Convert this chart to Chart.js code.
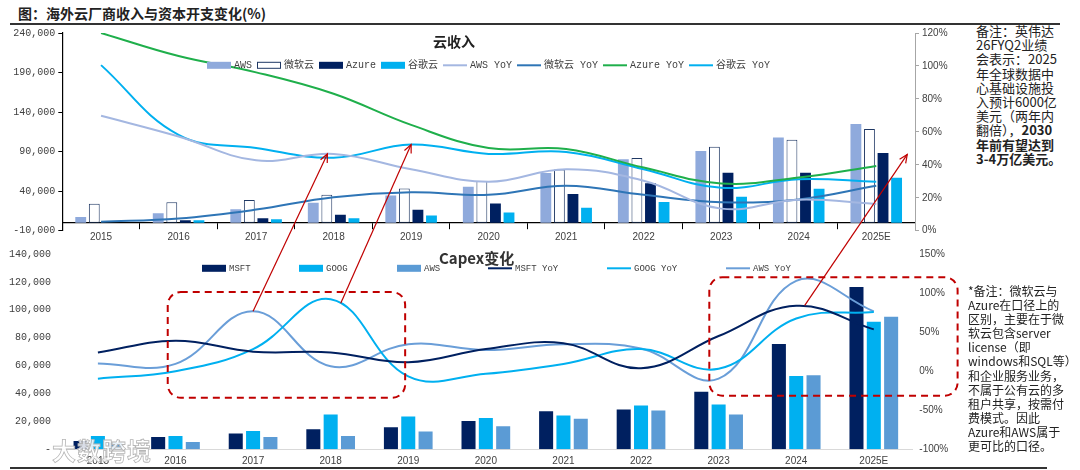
<!DOCTYPE html>
<html>
<head>
<meta charset="utf-8">
<script src="https://cdn.jsdelivr.net/npm/chart.js@4.4.1/dist/chart.umd.min.js"></script>
<style>
html, body { margin: 0; padding: 0; background: #fff; }
#page { position: relative; width: 1080px; height: 470px; overflow: hidden; font-family: "Noto Sans CJK SC", sans-serif; color: #222; }
canvas { position: absolute; }
#revChart { left: 10px; top: 24px; }
#capexChart { left: 0px; top: 240px; }
#overlay { left: 0; top: 0; pointer-events: none; z-index: 5; }
.rule { position: absolute; background: #333; height: 2px; }
.txt { position: absolute; white-space: nowrap; }
.note { position: absolute; white-space: nowrap; }
#wm { position: absolute; left: 52px; top: 432px; font-size: 24px; font-weight: bold; color: rgba(255,255,255,0.85); -webkit-text-stroke: 0.8px #b5b5b5; z-index: 6; letter-spacing: 1px; }
</style>
</head>
<body>
<div id="page">
  <div class="txt" style="left:18px;top:3px;font-size:14px;font-weight:bold;line-height:20px;">图：海外云厂商收入与资本开支变化(%)</div>
  <div class="rule" style="left:10px;top:23px;width:1050px;"></div>
  <div class="rule" style="left:10px;top:467px;width:1037px;"></div>

  <canvas id="revChart" width="950" height="226"></canvas>
  <canvas id="capexChart" width="960" height="230"></canvas>

  <div class="txt" style="left:433px;top:31px;font-size:14px;font-weight:bold;line-height:20px;">云收入</div>
  <div class="txt" style="left:439px;top:248px;font-size:15px;font-weight:bold;line-height:20px;color:#333;">Capex变化</div>

  <div class="note" style="left:976px;top:24px;font-size:13px;line-height:14.2px;">备注：英伟达<br>26FYQ2业绩<br>会表示：2025<br>年全球数据中<br>心基础设施投<br>入预计6000亿<br>美元（两年内<br>翻倍），<b>2030</b><br><b>年前有望达到</b><br><b>3-4万亿美元。</b></div>
  <div class="note" style="left:968px;top:284px;font-size:12px;line-height:14.1px;">*备注：微软云与<br>Azure在口径上的<br>区别，主要在于微<br>软云包含server<br>license（即<br>windows和SQL等）<br>和企业服务业务，<br>不属于公有云的多<br>租户共享，按需付<br>费模式。因此<br>Azure和AWS属于<br>更可比的口径。</div>

  <div id="wm">大数跨境</div>
  <canvas id="overlay" width="1080" height="470"></canvas>
</div>

<script>
// ---- data ----
const years = ['2015', '2016', '2017', '2018', '2019', '2020', '2021', '2022', '2023', '2024', '2025E'];

// 云收入 (百万美元)
const awsRev   = [7200, 12200, 17200, 25500, 34600, 45500, 62900, 80300, 90700, 107700, 124800];
const msCloud  = [24000, 25900, 28900, 35500, 43300, 52900, 67500, 82000, 96100, 104900, 118600];
const azureRev = [null, 3100, 5600, 10200, 16400, 24300, 36400, 50000, 63300, 63300, 88200];
const googRev  = [null, 3100, 4400, 5600, 9300, 13100, 18900, 26400, 33000, 43000, 57000];

// 云收入 YoY (%)
const awsYoY   = [69.8, 57.2, 42.7, 46.6, 37.3, 29.7, 37.3, 30.3, 13.4, 18.8, 16.2];
const msYoY    = [5.4, 7.4, 12.8, 20.3, 23.3, 21.8, 27.3, 21.8, 17.3, 19.0, 27.3];
const azureYoY = [120, 106, 96.1, 83.1, 64.2, 50.2, 49.6, 38.3, 28.7, 32.3, 39.3];
const googYoY  = [100.5, 58.2, 50.2, 44.3, 52.3, 46.6, 47.8, 37.3, 26.0, 31.3, 29.7];

// Capex (百万美元)
const msftCapex = [5900, 8900, 11300, 14400, 15800, 20200, 27300, 28500, 41300, 75400, 116300];
const googCapex = [9600, 9600, 13200, 25000, 23600, 22400, 24300, 31400, 32100, 52600, 91500];
const awsCapex  = [4700, 5200, 8900, 9600, 12700, 16500, 21900, 27800, 25000, 53100, 95100];

// Capex YoY (%)
const msftCapexYoY = [24, 39, 25, 24, 11.4, 28.3, 35.8, 3.8, 45, 83.8, 53.5];
const googCapexYoY = [-9.6, 0, 28.3, 92.1, -6.7, -3.3, 9.3, 28.3, 3, 67.4, 75.7];
const awsCapexYoY  = [9.7, 9.3, 76.6, 6.3, 34.6, 27, 34.6, 29, -9.6, 115.7, 76.6];

// tick settings
const revTicks = { min: -10000, max: 240000, step: 50000 };
const revPctTicks = { min: 0, max: 120, step: 20 };
const capexTicks = { min: 0, max: 140000, step: 20000 };
const capexPctTicks = { min: -100, max: 150, step: 50 };

// red annotations, in data space (category index, axis value)
const arrows = [
  { from: { x: 2.0, y: 76.6 }, to: { x: 2.92, y: 46.6 } },
  { from: { x: 3.13, y: 87 }, to: { x: 4.0, y: 52.3 } },
  { from: { x: 9.11, y: 84.2 }, to: { x: 10.4, y: 46.3 } }
];
const dashBoxes = [
  { x0: 0.9, x1: 3.96, y0: 112750, y1: 37000 },
  { x0: 7.88, x1: 11.08, y0: 123400, y1: 38400 }
];

// ---- helpers ----
const monoFont = { family: "'Liberation Mono', 'Noto Sans CJK SC', monospace", size: 10 };
const sansFont = { family: "'Liberation Sans', Arial, sans-serif", size: 10 };
const fmtNum = v => v.toLocaleString('en-US');

// legend drawn inside the plot area
const floatLegend = {
  id: 'floatLegend',
  afterDraw(chart, args, opts) {
    const ctx = chart.ctx;
    ctx.save();
    ctx.font = opts.font;
    ctx.textBaseline = 'middle';
    let x = opts.x;
    opts.items.forEach((idx, i) => {
      const ds = chart.data.datasets[idx];
      const sx = opts.slots ? opts.slots[i] : x;
      const y = opts.y;
      if (ds.type === 'line') {
        ctx.strokeStyle = ds.borderColor;
        ctx.lineWidth = ds.borderWidth;
        ctx.beginPath();
        ctx.moveTo(sx, y);
        ctx.lineTo(sx + opts.sample, y);
        ctx.stroke();
      } else {
        ctx.fillStyle = ds.backgroundColor;
        ctx.fillRect(sx, y - opts.boxH / 2, opts.sample, opts.boxH);
        if (ds.borderWidth) {
          ctx.strokeStyle = ds.borderColor;
          ctx.lineWidth = 1;
          ctx.strokeRect(sx + 0.5, y - opts.boxH / 2 + 0.5, opts.sample - 1, opts.boxH - 1);
        }
      }
      ctx.fillStyle = opts.color;
      ctx.fillText(ds.label, sx + opts.sample + 3, y + 0.5);
      x = sx + opts.sample + 3 + ctx.measureText(ds.label).width + opts.gap;
    });
    ctx.restore();
  }
};

const lineDs = (label, data, color, axis) => ({
  type: 'line', label, data, borderColor: color, backgroundColor: color,
  borderWidth: 2, pointRadius: 0, tension: 0.4, fill: false, yAxisID: axis, order: 0
});
const barDs = (label, data, color, extra) => Object.assign({
  type: 'bar', label, data, backgroundColor: color, borderWidth: 0, yAxisID: 'y', order: 1
}, extra || {});

// ---- 云收入 chart ----
const revChart = new Chart(document.getElementById('revChart'), {
  type: 'bar',
  data: {
    labels: years,
    datasets: [
      barDs('AWS', awsRev, '#8FAADC'),
      barDs('微软云', msCloud, '#FFFFFF', { borderColor: '#1F3864', borderWidth: 1, borderSkipped: false }),
      barDs('Azure', azureRev, '#002060'),
      barDs('谷歌云', googRev, '#00B0F0'),
      lineDs('AWS YoY', awsYoY, '#A4B7E1', 'y1'),
      lineDs('微软云 YoY', msYoY, '#2E75B6', 'y1'),
      lineDs('Azure YoY', azureYoY, '#1FAF4B', 'y1'),
      lineDs('谷歌云 YoY', googYoY, '#00B0F0', 'y1')
    ]
  },
  options: {
    responsive: false,
    animation: false,
    layout: { padding: { top: 6, bottom: 19.3, left: 0, right: 0 } },
    datasets: { bar: { categoryPercentage: 0.7, barPercentage: 0.8 } },
    plugins: {
      legend: { display: false },
      tooltip: { enabled: false },
      floatLegend: {
        items: [0, 1, 2, 3, 4, 5, 6, 7], x: 197, y: 41.3, sample: 24, boxH: 7, gap: 5,
        font: "10px 'Liberation Mono', 'Noto Sans CJK SC', monospace", color: '#404040'
      }
    },
    scales: {
      x: {
        position: { y: 0 },
        offset: true,
        grid: { display: true, drawOnChartArea: false, drawTicks: true, tickLength: 6, color: '#000', offset: true },
        border: { display: true, color: '#000', width: 1.2 },
        ticks: { font: sansFont, color: '#404040', padding: 2, maxRotation: 0 }
      },
      y: {
        position: 'left',
        min: revTicks.min, max: revTicks.max,
        ticks: { stepSize: revTicks.step, font: monoFont, color: '#404040', padding: 3, callback: v => fmtNum(v) },
        grid: { display: true, drawOnChartArea: false, drawTicks: true, tickLength: 4, color: '#000' },
        border: { display: true, color: '#000', width: 1.2 },
        afterFit: s => { s.width = 52.3; }
      },
      y1: {
        position: 'right',
        min: revPctTicks.min, max: revPctTicks.max,
        ticks: { stepSize: revPctTicks.step, font: sansFont, color: '#404040', padding: 3, callback: v => v + '%' },
        grid: { display: true, drawOnChartArea: false, drawTicks: true, tickLength: 4, color: '#A6A6A6' },
        border: { display: true, color: '#A6A6A6', width: 1 },
        afterFit: s => { s.width = 45; }
      }
    }
  },
  plugins: [floatLegend]
});

// ---- Capex chart ----
const capexChart = new Chart(document.getElementById('capexChart'), {
  type: 'bar',
  data: {
    labels: years,
    datasets: [
      barDs('MSFT', msftCapex, '#002060'),
      barDs('GOOG', googCapex, '#00B0F0'),
      barDs('AWS', awsCapex, '#5B9BD5'),
      lineDs('MSFT YoY', msftCapexYoY, '#002060', 'y1'),
      lineDs('GOOG YoY', googCapexYoY, '#00B0F0', 'y1'),
      lineDs('AWS YoY', awsCapexYoY, '#6A9ED8', 'y1')
    ]
  },
  options: {
    responsive: false,
    animation: false,
    layout: { padding: { top: 11.5, bottom: 0, left: 0, right: 0 } },
    datasets: { bar: { categoryPercentage: 0.67, barPercentage: 0.81 } },
    plugins: {
      legend: { display: false },
      tooltip: { enabled: false },
      floatLegend: {
        items: [0, 1, 2, 3, 4, 5], slots: [202, 299, 397, 488, 607, 726], y: 28.3, sample: 24, boxH: 7, gap: 5,
        font: "9px 'Liberation Mono', monospace", color: '#404040'
      }
    },
    scales: {
      x: {
        position: 'bottom',
        offset: true,
        grid: { display: false, drawTicks: false },
        border: { display: true, color: '#D9D9D9', width: 1 },
        ticks: { font: sansFont, color: '#404040', padding: 6, maxRotation: 0 },
        afterFit: s => { s.height = 20.7; }
      },
      y: {
        position: 'left',
        min: capexTicks.min, max: capexTicks.max,
        ticks: { stepSize: capexTicks.step, font: monoFont, color: '#404040', padding: 8, callback: v => v === 0 ? '-' : fmtNum(v) },
        grid: { display: false, drawTicks: false },
        border: { display: false },
        afterFit: s => { s.width = 59.1; }
      },
      y1: {
        position: 'right',
        min: capexPctTicks.min, max: capexPctTicks.max,
        ticks: { stepSize: capexPctTicks.step, font: sansFont, color: '#404040', padding: 6.7, callback: v => v + '%' },
        grid: { display: false, drawTicks: false },
        border: { display: false },
        afterFit: s => { s.width = 47.4; }
      }
    }
  },
  plugins: [floatLegend]
});

// ---- red arrows and dashed boxes ----
function pagePt(chart, xIdx, val, axis) {
  const c = chart.canvas;
  return [c.offsetLeft + chart.scales.x.getPixelForValue(xIdx),
          c.offsetTop + chart.scales[axis].getPixelForValue(val)];
}

const ov = document.getElementById('overlay').getContext('2d');
ov.strokeStyle = '#C00000';
ov.fillStyle = '#C00000';

arrows.forEach(a => {
  const [x0, y0] = pagePt(capexChart, a.from.x, a.from.y, 'y1');
  const [x1, y1] = pagePt(revChart, a.to.x, a.to.y, 'y1');
  ov.lineWidth = 1.2;
  ov.beginPath();
  ov.moveTo(x0, y0);
  ov.lineTo(x1, y1);
  ov.stroke();
  const ang = Math.atan2(y1 - y0, x1 - x0);
  const len = 9;
  ov.beginPath();
  ov.moveTo(x1 - len * Math.cos(ang - 0.42), y1 - len * Math.sin(ang - 0.42));
  ov.lineTo(x1, y1);
  ov.lineTo(x1 - len * Math.cos(ang + 0.42), y1 - len * Math.sin(ang + 0.42));
  ov.stroke();
});

dashBoxes.forEach(b => {
  const [xa, ya] = pagePt(capexChart, b.x0, b.y0, 'y');
  const [xb, yb] = pagePt(capexChart, b.x1, b.y1, 'y');
  const r = 13;
  ov.lineWidth = 2;
  ov.setLineDash([7, 5]);
  ov.beginPath();
  ov.moveTo(xa + r, ya);
  ov.arcTo(xb, ya, xb, yb, r);
  ov.arcTo(xb, yb, xa, yb, r);
  ov.arcTo(xa, yb, xa, ya, r);
  ov.arcTo(xa, ya, xb, ya, r);
  ov.closePath();
  ov.stroke();
  ov.setLineDash([]);
});
</script>
</body>
</html>
